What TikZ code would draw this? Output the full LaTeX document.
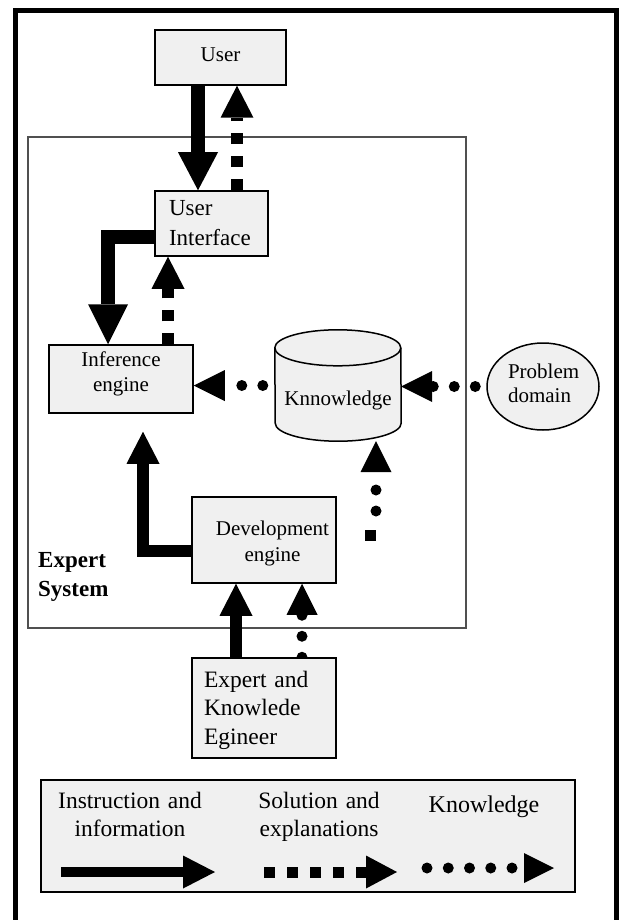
\documentclass[tikz,border=0pt]{standalone}
\usepackage{fontspec}
\setmainfont{Liberation Serif}
\usetikzlibrary{arrows.meta,shapes.geometric,calc}
\definecolor{boxfill}{RGB}{240,240,240}
\definecolor{framegray}{RGB}{80,80,80}
\pgfdeclarelayer{back}
\pgfdeclarelayer{conn}
\pgfsetlayers{back,conn,main}
\newcommand{\fsz}[2]{\fontsize{#1}{#2}\selectfont}

\begin{document}
\begin{tikzpicture}[x=1pt,y=-1pt,
  box/.style={draw, line width=1.5pt, fill=boxfill, rectangle, inner sep=0pt},
  thickflow/.style={line width=14pt, line join=miter, -{Triangle[width=40pt,length=38pt,line width=0pt]}},
  flow/.style={line width=12pt, line join=miter, -{Triangle[width=33pt,length=32pt,line width=0pt]}},
  dashflow/.style={line width=12pt, dash pattern=on 11pt off 12pt, -{Triangle[width=33pt,length=32pt,line width=0pt]}},
  dotflow/.style={line width=11pt, line cap=round, dash pattern=on 0pt off 21pt, -{Triangle[width=31pt,length=31pt,line width=0pt]}},
]
\useasboundingbox (0,0) rectangle (622,920);

% expert system frame
\begin{pgfonlayer}{back}
  \node[draw=framegray, line width=1.2pt, minimum width=438pt, minimum height=491pt, inner sep=0pt] (sys) at (247,382.5) {};
\end{pgfonlayer}

% components
\node[box, minimum width=131pt, minimum height=55pt, text width=120pt, align=center,
      font=\fsz{21}{24}, text height=8.4pt, text depth=0pt] (user) at (220.5,57.5) {User};
\node[box, minimum width=113pt, minimum height=65pt, text width=85pt, align=left,
      font=\fsz{23}{30.7}, text height=0pt, text depth=17pt] (ui) at (211.5,223.5) {User\\Interface};
\node[box, minimum width=144pt, minimum height=68pt, text width=130pt, align=center,
      font=\fsz{21}{25}, text height=0pt, text depth=24.6pt] (infe) at (121,379) {Inference\\engine};
\node[minimum width=126pt, minimum height=111pt, inner sep=0pt, text width=120pt, align=center,
      font=\fsz{21}{25}, text height=39pt, text depth=0pt] (knw) at (338,385.5) {Knnowledge};
\node[ellipse, draw, line width=1.5pt, fill=boxfill, inner sep=0pt, minimum width=112pt, minimum height=87pt,
      text width=76pt, align=left, font=\fsz{21}{24.7}, text height=0pt, text depth=17pt,
      execute at begin node={\leftskip=3pt}] (prob) at (543,386.5) {Problem\\domain};
\node[box, minimum width=144pt, minimum height=86pt, text width=140pt, align=center,
      font=\fsz{21}{26.7}, text height=0pt, text depth=10pt] (dev) at (264,540)
      {\hspace*{17pt}Development\\\hspace*{17pt}engine};
\node[box, minimum width=144pt, minimum height=100pt, text width=120pt, align=left,
      font=\fsz{23.5}{28.5}, text height=0pt, text depth=42pt] (ke) at (264,708) {Expert and\\Knowlede\\Egineer};
\node[anchor=base west, inner sep=0pt, text width=100pt, align=left,
      font=\bfseries\fsz{23}{28.3}] (sysname) at (38,567.7) {Expert\\System};

% knowledge base drawn as a cylinder behind its node
\begin{pgfonlayer}{back}
  \filldraw[fill=boxfill, line width=1.5pt]
    ($(knw.north west)+(0,18)$) arc[start angle=180, end angle=0, x radius=63pt, y radius=18pt]
    -- ($(knw.south east)+(0,-18)$) arc[start angle=0, end angle=-180, x radius=63pt, y radius=18pt]
    -- cycle;
  \draw[line width=1.5pt] ($(knw.north west)+(0,18)$) arc[start angle=180, end angle=360, x radius=63pt, y radius=18pt];
\end{pgfonlayer}

% flows between the components
\begin{pgfonlayer}{conn}
  \draw[thickflow] ([xshift=-22.5pt]user.south) -- ([xshift=-13.5pt]ui.north);
  \draw[dashflow] ([xshift=25.5pt]ui.north) -- ([xshift=16.5pt]user.south);
  \draw[thickflow, -{Triangle[width=40pt,length=40pt,line width=0pt]}]
    ([yshift=-13.5pt]ui.west) -| ([xshift=-13pt]infe.north);
  \draw[dashflow] ([xshift=47pt]infe.north) -- ([xshift=-43.5pt]ui.south);
  \draw[dotflow, dash phase=9pt] (knw.west) -- (knw.west -| infe.east);
  \draw[dotflow, dash phase=10pt] (prob.west) -- (prob.west -| knw.east);
  \draw[flow] ([yshift=-11pt]dev.west) -| ([xshift=22pt,yshift=-18pt]infe.south);
  \coordinate (kfeed) at (376,511);
  \coordinate (kseed) at (370.5,535.5);
  \fill ($(kseed)+(-5.5,-5.5)$) rectangle ++(11,11);
  \draw[dotflow] (kfeed) -- (kfeed |- knw.south);
  \draw[flow] ([xshift=-28pt]ke.north) -- ([xshift=-28pt]dev.south);
  \draw[dotflow] ([xshift=38pt]ke.north) -- ([xshift=38pt]dev.south);
\end{pgfonlayer}

% legend
\node[box, line width=1.7pt, minimum width=534pt, minimum height=112pt] (legend) at (308,836) {};
\node[anchor=base, inner sep=0pt, text width=170pt, align=center, font=\fsz{23.5}{28}] (leg1) at (130,808) {Instruction and\\information};
\node[anchor=base, inner sep=0pt, text width=170pt, align=center, font=\fsz{23.5}{28}] (leg2) at (319,808) {Solution and\\explanations};
\node[anchor=base, inner sep=0pt, font=\fsz{24}{28}] (leg3) at (484,812) {Knowledge};
\coordinate (l1s) at (61,872);  \coordinate (l1e) at (215,872);
\coordinate (l2s) at (264,872); \coordinate (l2e) at (397,872);
\coordinate (l3s) at (427,868); \coordinate (l3e) at (554,868);
\draw[line width=10pt, -{Triangle[width=33pt,length=32pt,line width=0pt]}] (l1s) -- (l1e);
\draw[line width=11pt, dash pattern=on 11pt off 12pt, -{Triangle[width=33pt,length=31pt,line width=0pt]}] (l2s) -- (l2e);
\draw[dotflow, dash pattern=on 0pt off 21.25pt, -{Triangle[width=30pt,length=30pt,line width=0pt]}] (l3s) -- (l3e);

% outer frame, open at the bottom edge of the page
\draw[line width=5pt, line join=miter] (15.5,935) -- (15.5,10.5) -- (616.5,10.5) -- (616.5,935);
\end{tikzpicture}
\end{document}
